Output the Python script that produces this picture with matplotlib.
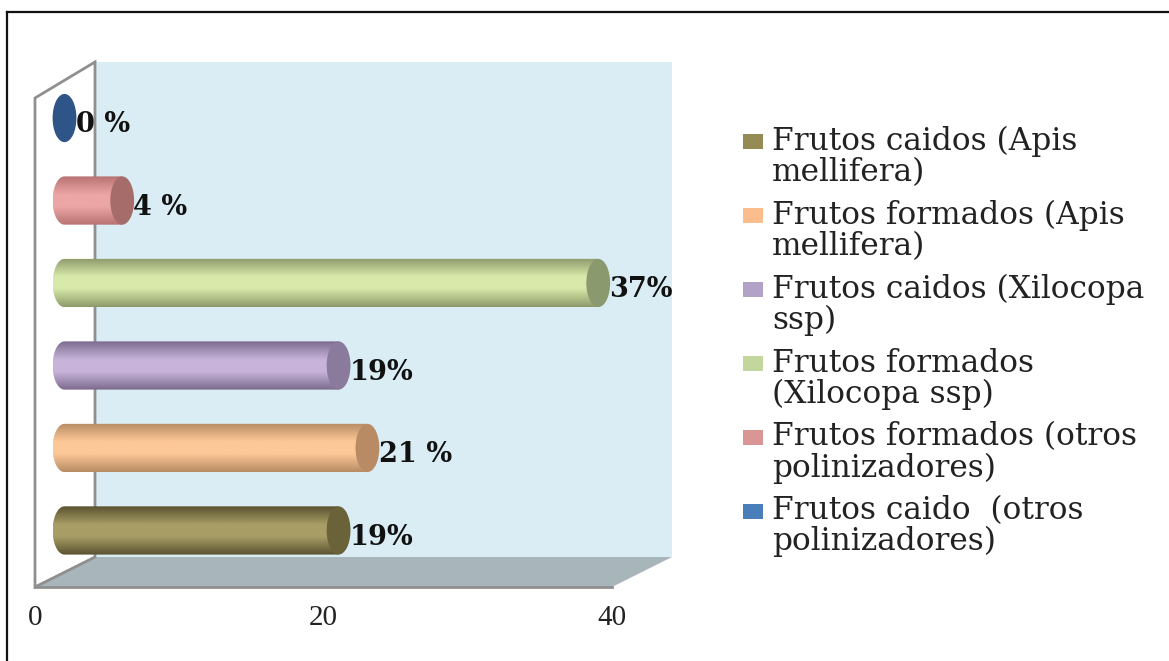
import numpy as np
import matplotlib
matplotlib.use("Agg")
import matplotlib.pyplot as plt
from matplotlib.patches import Polygon, Ellipse, Rectangle, PathPatch, Patch
from matplotlib.path import Path
from matplotlib.colors import LinearSegmentedColormap
from matplotlib.legend_handler import HandlerPatch

# data, bottom to top
categories = ["Frutos caidos (Apis\nmellifera)", "Frutos formados (Apis\nmellifera)",
              "Frutos caidos (Xilocopa\nssp)", "Frutos formados\n(Xilocopa ssp)",
              "Frutos formados (otros\npolinizadores)", "Frutos caido  (otros\npolinizadores)"]
values = [19, 21, 19, 37, 4, 0]
value_labels = ["19%", "21 %", "19%", "37%", "4 %", "0 %"]
x_ticks = [0, 20, 40]
legend_colors = ["#958b55", "#fbbd8c", "#b2a2c7", "#c3d69b", "#d99694", "#4a7ebb"]
center_colors = ["#a89e66", "#fdc898", "#c8b4da", "#d8eaaa", "#eca6a6", "#2f5488"]
edge_colors = ["#5a5230", "#b88c64", "#7c6a8e", "#8c9a6a", "#b87272", "#2f5488"]
cap_colors = ["#6a6238", "#b98b64", "#8a7a9c", "#8b9a6e", "#a66c6a", "#2f5488"]

W, H = 1169, 661
fig = plt.figure(figsize=(W / 100, H / 100), dpi=100, facecolor="white")


def rect(l, r, t, b):
    return [l / W, 1 - b / H, (r - l) / W, (b - t) / H]


# scene in pixel coordinates: frame and 3D walls
scene = fig.add_axes([0, 0, 1, 1], zorder=0)
scene.set_xlim(0, W)
scene.set_ylim(H, 0)
scene.axis("off")
scene.plot([7, 7], [661, 12], color="#111111", lw=1.6)
scene.plot([7, 1169], [12, 12], color="#111111", lw=1.6)
scene.add_patch(Rectangle((95, 62), 577, 495, fc="#daedf4", ec="none"))
scene.add_patch(Polygon([(35, 587), (95, 557), (672, 557), (612, 587)], fc="#a8b5ba", ec="none"))
scene.add_patch(Polygon([(35, 98), (95, 62), (95, 557), (35, 587)], fc="white", ec="#8f8f8f", lw=2))
scene.plot([35, 612], [587, 587], color="#8f8f8f", lw=2)

# front plane axes: carries the x scale labels
front = fig.add_axes(rect(35, 612, 62, 587), zorder=1)
front.patch.set_alpha(0)
front.set_xlim(0, 40)
front.set_yticks([])
front.set_xticks(x_ticks)
front.tick_params(axis="x", length=0, pad=13)
for t in front.get_xticklabels():
    t.set_family("Liberation Serif")
    t.set_fontsize(21)
    t.set_color("#222222")
for s in front.spines.values():
    s.set_visible(False)

# mid-depth axes: the cylinders (x starts below zero to leave room for the rounded end)
ax = fig.add_axes(rect(64.5 - 2 * 14.425, 641.5, 76.8, 571.7), zorder=2)
ax.patch.set_alpha(0)
ax.axis("off")
bar_h = 0.585
cap_w = 1.65
t_arc = np.linspace(np.pi / 2, 3 * np.pi / 2, 40)

for i, (v, c0, c1, cc) in enumerate(zip(values, center_colors, edge_colors, cap_colors)):
    if v > 0:
        cmap = LinearSegmentedColormap.from_list(
            "c", [(0, c1), (0.38, c0), (0.62, c0), (1, c1)], N=128)
        grad = np.linspace(0, 1, 128).reshape(-1, 1)
        im = ax.imshow(grad, cmap=cmap, aspect="auto", origin="lower", zorder=3,
                       extent=(-cap_w / 2, v, i - bar_h / 2, i + bar_h / 2))
        arc = np.column_stack([cap_w / 2 * np.cos(t_arc), i + bar_h / 2 * np.sin(t_arc)])
        pts = np.vstack([[[v, i + bar_h / 2]], arc, [[v, i - bar_h / 2]], [[v, i + bar_h / 2]]])
        clip = PathPatch(Path(pts), transform=ax.transData, fc="none", ec="none")
        ax.add_patch(clip)
        im.set_clip_path(clip)
    ax.add_patch(Ellipse((v, i), cap_w, bar_h, fc=cc, ec="none", zorder=4))
    ax.annotate(value_labels[i], (v, i), xytext=(8.0, -5), textcoords="offset points",
                ha="left", va="center", family="DejaVu Serif", weight="bold",
                fontsize=19.5, color="#111111", zorder=5)

ax.set_xlim(-2, 40)
ax.set_ylim(-0.5, 5.5)


class FirstLineHandler(HandlerPatch):
    def create_artists(self, legend, orig, xd, yd, w, h, fontsize, trans):
        p = Rectangle((-xd, -yd + 11.5), w, h, fc=orig.get_facecolor(), ec="none", transform=trans)
        return [p]


handles = [Patch(color=c) for c in legend_colors]
leg = fig.legend(handles, categories, loc="upper left",
                 bbox_to_anchor=(743 / W, 1 - 126 / H), frameon=False,
                 prop={"family": "DejaVu Serif", "size": 22.5},
                 borderpad=0, borderaxespad=0, handlelength=0.64, handleheight=0.36,
                 handletextpad=0.29, labelspacing=0.37,
                 handler_map={Patch: FirstLineHandler()})
for t in leg.get_texts():
    t.set_color("#222222")
    t.set_linespacing(1.0)

fig.savefig("out.png", dpi=100)
